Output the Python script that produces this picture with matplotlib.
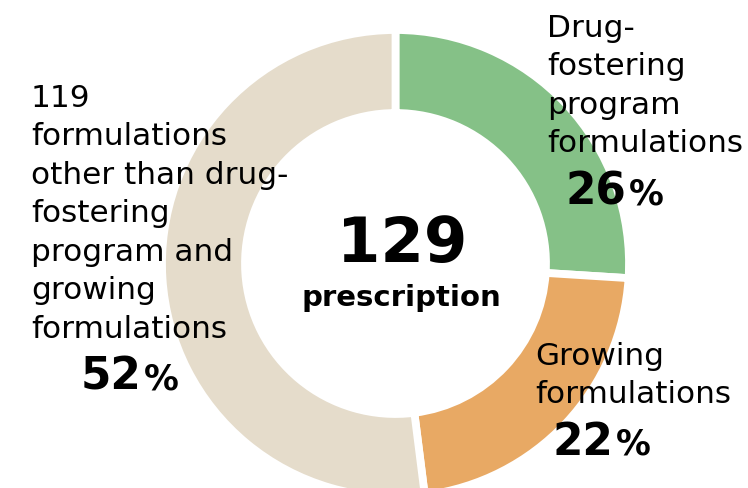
import matplotlib
matplotlib.use("Agg")
import matplotlib.pyplot as plt

# Share of formulations by category
categories = ["Drug-fostering program formulations",
              "Growing formulations",
              "Other formulations"]
shares = [26, 22, 52]
colors = ["#85C187", "#E8A964", "#E5DCCB"]

total_label = "129"
total_caption = "prescription"

label_texts = [
    "Drug-\nfostering\nprogram\nformulations",
    "Growing\nformulations",
    "119\nformulations\nother than drug-\nfostering\nprogram and\ngrowing\nformulations",
]

W, H = 748, 489
DPI = 100

fig = plt.figure(figsize=(W / DPI, H / DPI), dpi=DPI)
ax = fig.add_axes([0, 0, 1, 1])

def py(y):
    """Convert a top-down pixel row into data y."""
    return H - y

cx, cy = 395.5, py(264.5)
r_out = 233.5
ring = 83

ax.pie(shares, colors=colors, startangle=90, counterclock=False,
       center=(cx, cy), radius=r_out,
       wedgeprops=dict(width=ring, edgecolor="white", linewidth=5.6))

ax.set_xlim(0, W)
ax.set_ylim(0, H)
ax.set_aspect("auto")
ax.axis("off")

FONT = "DejaVu Sans"
LINE_PX = 38.5

def block(x, y_first, text):
    for i, line in enumerate(text.split("\n")):
        ax.text(x, py(y_first + i * LINE_PX), line, fontsize=22.4,
                family=FONT, ha="left", va="baseline", color="black")

def pct(x_split, y_base, value):
    ax.text(x_split, py(y_base), f"{value}", fontsize=31.5, fontweight="bold",
            family=FONT, ha="right", va="baseline", color="black")
    ax.text(x_split + 3, py(y_base), "%", fontsize=25, fontweight="bold",
            family=FONT, ha="left", va="baseline", color="black")

# Category labels with their shares
block(547, 37, label_texts[0])
pct(626, 205, shares[0])

block(535, 365, label_texts[1])
pct(613, 455, shares[1])

block(31, 107, label_texts[2])
pct(141, 390, shares[2])

# Centre total
ax.text(cx + 7, py(262), total_label, fontsize=45, fontweight="bold",
        family=FONT, ha="center", va="baseline", color="black")
ax.text(cx + 6, py(306), total_caption, fontsize=21, fontweight="bold",
        family=FONT, ha="center", va="baseline", color="black")

fig.savefig("out.png", dpi=DPI)
